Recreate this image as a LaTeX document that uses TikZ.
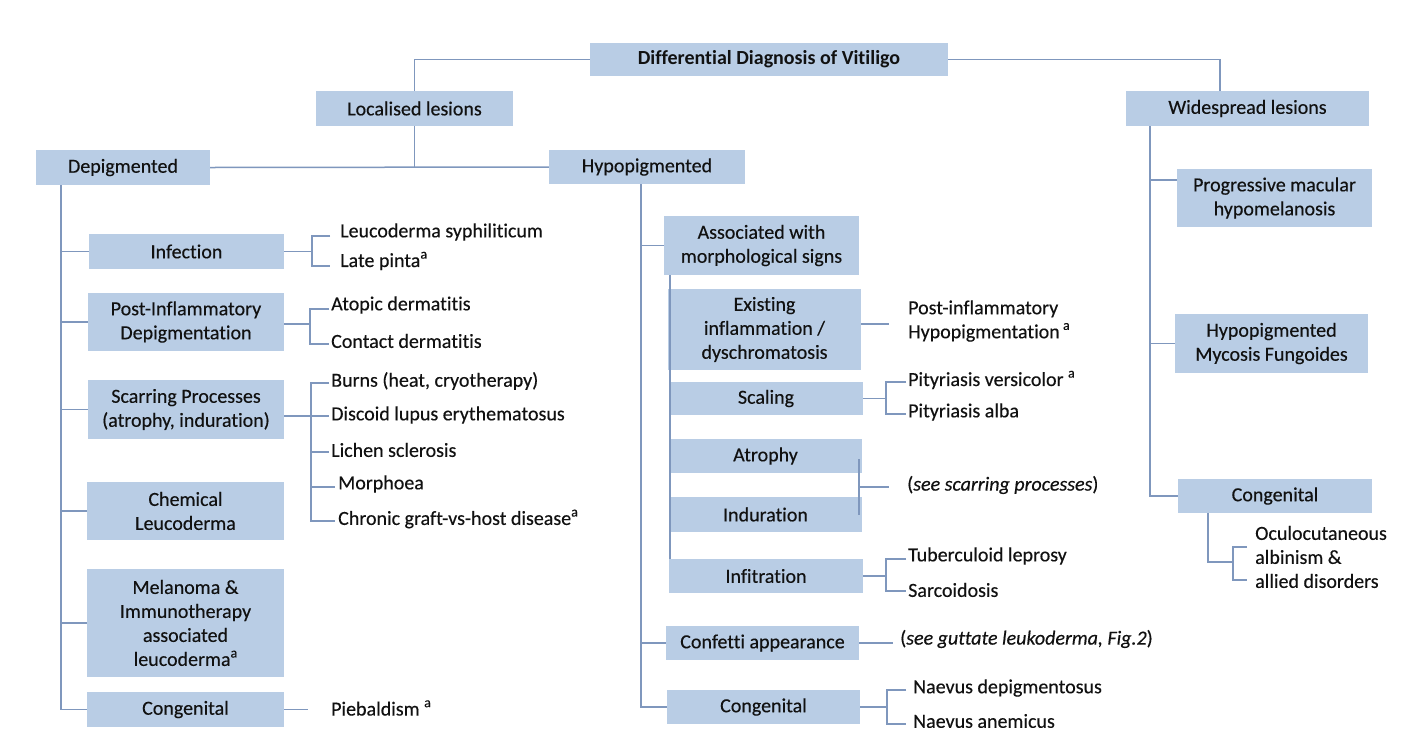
\documentclass[tikz,border=0pt]{standalone}
\usepackage{fontspec}
\setmainfont{Carlito}[Ligatures=NoCommon, UprightFeatures={FakeBold=0.3}, ItalicFeatures={FakeBold=0.3}]
\definecolor{boxblue}{HTML}{B9CDE5}
\definecolor{linec}{HTML}{7F97BD}
\definecolor{txt}{HTML}{111111}
\newcommand{\supa}{\raisebox{0.42em}{\fontsize{14}{14}\selectfont a}}
\begin{document}
\begin{tikzpicture}[x=1pt,y=-1pt,
 font=\fontsize{20}{24}\selectfont,
 box/.style={fill=boxblue, inner sep=0pt, align=center, text=txt},
 ln/.style={draw=linec, line width=1.5pt},
 lbl/.style={anchor=west, inner sep=0pt, align=left, text=txt}]
\useasboundingbox[fill=white] (0,0) rectangle (1410,740);

% boxes
\node[box, minimum width=358pt, minimum height=33pt, font=\fontsize{20}{24}\selectfont\bfseries] (root) at (769,59.5) {Differential Diagnosis of Vitiligo};
\node[box, minimum width=197pt, minimum height=35pt] (loc) at (414.5,108.5) {Localised lesions};
\node[box, minimum width=243pt, minimum height=35pt] (wide) at (1247.5,108.5) {Widespread lesions};
\node[box, minimum width=174pt, minimum height=35pt] (dep) at (123,167.5) {Depigmented};
\node[box, minimum width=196pt, minimum height=34pt] (hyp) at (647,167) {Hypopigmented};

\node[box, minimum width=195pt, minimum height=35pt] (inf) at (186.5,251.5) {Infection};
\node[box, minimum width=196pt, minimum height=58pt] (post) at (186,322) {Post-Inflammatory\\Depigmentation};
\node[box, minimum width=196pt, minimum height=59pt] (scar) at (186,409.5) {Scarring Processes\\(atrophy, induration)};
\node[box, minimum width=197pt, minimum height=58pt] (chem) at (185.5,511) {Chemical\\Leucoderma};
\node[box, minimum width=197pt, minimum height=108pt] (mel) at (185.5,623) {Melanoma \&\\Immunotherapy\\associated\\leucoderma\supa};
\node[box, minimum width=197pt, minimum height=35pt] (congL) at (185.5,709.5) {Congenital};

\node[box, minimum width=195pt, minimum height=59pt] (assoc) at (761.5,245.5) {Associated with\\morphological signs};
\node[box, minimum width=193pt, minimum height=81pt] (exist) at (764.5,329.5) {Existing\\inflammation /\\dyschromatosis};
\node[box, minimum width=194pt, minimum height=33pt] (scal) at (766,398.5) {Scaling};
\node[box, minimum width=193pt, minimum height=34pt] (atro) at (765.5,456) {Atrophy};
\node[box, minimum width=193pt, minimum height=35pt] (indu) at (765.5,514.5) {Induration};
\node[box, minimum width=194pt, minimum height=34pt] (infit) at (766,576) {Infitration};
\node[box, minimum width=193pt, minimum height=34pt] (conf) at (762.5,643) {Confetti appearance};
\node[box, minimum width=193pt, minimum height=34pt] (congM) at (763.5,707) {Congenital};

\node[box, minimum width=195pt, minimum height=58pt] (prog) at (1274.5,198) {Progressive macular\\hypomelanosis};
\node[box, minimum width=193pt, minimum height=59pt] (hmf) at (1271.5,343.5) {Hypopigmented\\Mycosis Fungoides};
\node[box, minimum width=194pt, minimum height=34pt] (congR) at (1275,496) {Congenital};

% labels
\node[lbl] (ls) at (340,232) {Leucoderma syphiliticum};
\node[lbl] (lp) at (340,261) {Late pinta\supa};
\node[lbl] (ad) at (331,305) {Atopic dermatitis};
\node[lbl] (cd) at (331,341) {Contact dermatitis};
\node[lbl] (bu) at (331,381) {Burns (heat, cryotherapy)};
\node[lbl] (dl) at (331,415) {Discoid lupus erythematosus};
\node[lbl] (lc) at (331,450) {Lichen sclerosis};
\node[lbl] (mo) at (338,484) {Morphoea};
\node[lbl] (cg) at (338,519) {Chronic graft-vs-host disease\supa};
\node[lbl] (pb) at (331,708) {Piebaldism \supa};

\node[lbl] (pih) at (908,321) {Post-inflammatory\\Hypopigmentation\,\supa};
\node[lbl] (pv) at (908,380) {Pityriasis versicolor \supa};
\node[lbl] (pa) at (908,412) {Pityriasis alba};
\node[lbl] (ssp) at (907,485) {(\textit{see scarring processes})};
\node[lbl] (tl) at (908,556) {Tuberculoid leprosy};
\node[lbl] (sa) at (908,590) {Sarcoidosis};
\node[lbl] (sgl) at (900,639) {(\textit{see guttate leukoderma, Fig.2})};
\node[lbl] (nd) at (913,688) {Naevus depigmentosus};
\node[lbl] (na) at (913,721) {Naevus anemicus};
\node[lbl] (oca) at (1255,557) {Oculocutaneous\\albinism \&\\allied disorders};

% top level connectors
\coordinate (wtop) at (1220,91);
\draw[ln] (root.west) -| (loc.north);
\draw[ln] (root.east) -| (wtop);
\draw[ln] (dep.east) -- (hyp.west);
\draw[ln] (loc.south) -- (loc.south |- dep.east);

% depigmented tree
\coordinate (dv) at (61,185);
\draw[ln] (dv) |- (congL.west);
\foreach \n in {inf,post,scar,chem,mel} \draw[ln] (dv |- \n.west) -- (\n.west);

\draw[ln] (inf.east) -- (312,251.5);
\draw[ln] (330,236) -- (312,236) -- (312,266) -- (330,266);

\draw[ln] ([yshift=-2pt]post.east) -- (310,324);
\draw[ln] (329,309) -- (310,309) -- (310,344) -- (329,344);

\draw[ln] ([yshift=-6.5pt]scar.east) -- (329,416);
\draw[ln] (329,383) -- (311,383) -- (311,521) -- (335,521);
\draw[ln] (311,452) -- (329,452);
\draw[ln] (311,487) -- (335,487);

\draw[ln] (congL.east) -- (308,709.5);

% hypopigmented tree
\coordinate (hv) at (641,184);
\draw[ln] (hv) |- (congM.west);
\draw[ln] (hv |- assoc.west) -- (assoc.west);
\draw[ln] (hv |- conf.west) -- (conf.west);
\draw[ln] (670,275) -- (670,559);

\draw[ln] ([yshift=5.5pt]exist.east) -- (889,324);
\draw[ln] (scal.east) -- (886,398.5);
\draw[ln] (906,382) -- (886,382) -- (886,414) -- (906,414);
\draw[ln] (859,459) -- (859,515);
\draw[ln] (859,487) -- (889,487);
\draw[ln] (infit.east) -- (886,576);
\draw[ln] (906,559) -- (886,559) -- (886,591) -- (906,591);
\draw[ln] (conf.east) -- (893,643);
\draw[ln] (congM.east) -- (887,707);
\draw[ln] (906,690) -- (887,690) -- (887,724) -- (906,724);

% widespread tree
\coordinate (wv) at (1150,126);
\draw[ln] (wv) |- (congR.west);
\draw[ln] (1150,180) -- (1177,180);
\draw[ln] (wv |- hmf.west) -- (hmf.west);
\draw[ln] (1208,513) -- (1208,562) -- (1233,562);
\draw[ln] (1247,547) -- (1233,547) -- (1233,580) -- (1247,580);
\end{tikzpicture}
\end{document}
